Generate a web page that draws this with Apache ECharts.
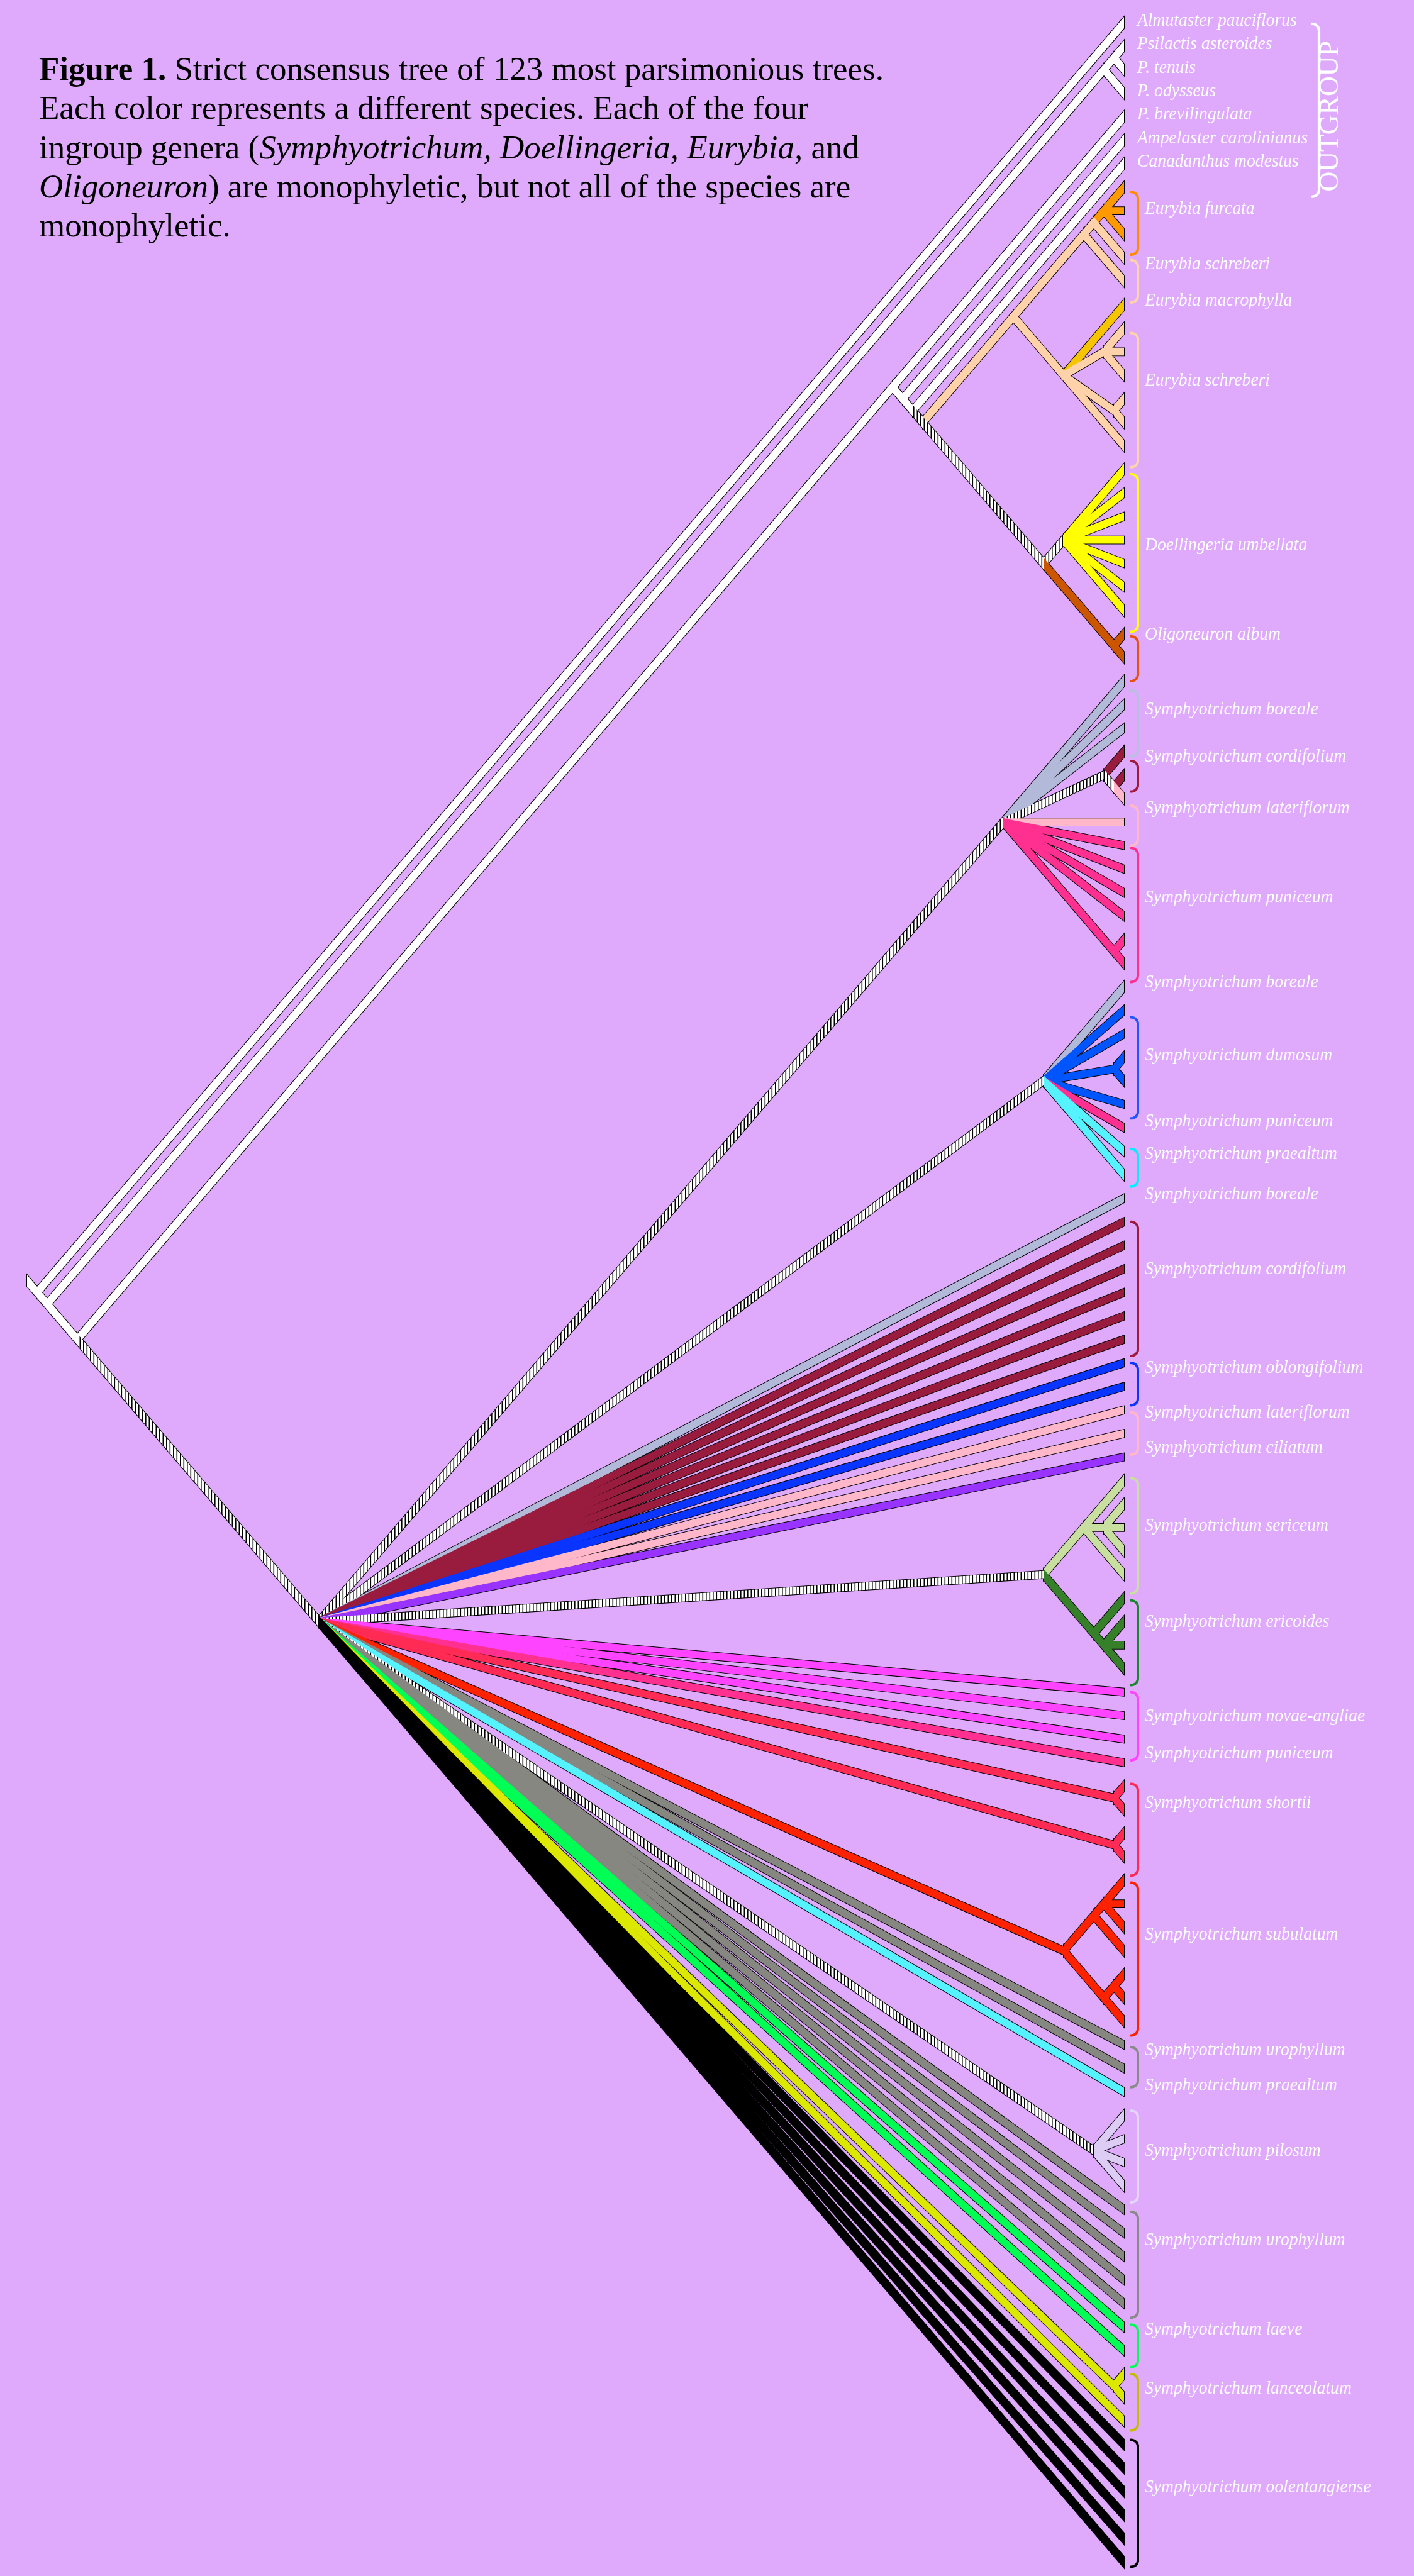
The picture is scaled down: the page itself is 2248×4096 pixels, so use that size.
<!DOCTYPE html>
<html>
<head>
<meta charset="utf-8">
<script src="https://cdn.jsdelivr.net/npm/echarts@6/dist/echarts.min.js"></script>
<style>
html,body{margin:0;padding:0;background:#E0AAFC;}
#chart{width:2248px;height:4096px;}
</style>
</head>
<body>
<div id="chart"></div>
<script>
// ---------------- DATA ----------------
// species of each terminal, top to bottom (leaf index = row)
const leafSpecies = [
  'out','out','out','out','out','out','out',
  'furc','furc','furc','schr','schr','macr','schr','schr','schr','schr','schr','schr',
  'doel','doel','doel','doel','doel','doel','doel',
  'olig','olig',
  'bore','bore','bore','cord','cord','late','late','puni','puni','puni','puni','puni','puni',
  'bore','dumo','dumo','dumo','dumo','dumo','puni','prae','prae',
  'bore','cord','cord','cord','cord','cord','cord','oblo','oblo','late','late','cili',
  'seri','seri','seri','seri','seri','eric','eric','eric','eric',
  'nova','nova','nova','puni','shor','shor','shor','shor',
  'subu','subu','subu','subu','subu','subu','subu','urop','urop','prae',
  'pilo','pilo','pilo','pilo','urop','urop','urop','urop','urop','laev','laev',
  'lanc','lanc','lanc','oole','oole','oole','oole','oole','oole'
];
const speciesColors = {
  out:'#FFFFFF', furc:'#FF9900', schr:'#FFD2AA', macr:'#F7C400', doel:'#FFFF00', olig:'#CC5500',
  bore:'#B3B9D9', cord:'#991C3E', late:'#FFB7C9', puni:'#FF3090', dumo:'#0055FF', prae:'#55F2FF',
  oblo:'#0A34FF', cili:'#9933FF', seri:'#C8DFA0', eric:'#37802A', nova:'#FF44FF', shor:'#FF2B55',
  subu:'#FF2200', urop:'#878782', pilo:'#DDCDF5', laev:'#00FF55', lanc:'#DDE800', oole:'#000000',
  w:'#FFFFFF'
};
const bracketColors = Object.assign({}, speciesColors, {
  out:'#FFFFFF', furc:'#FF8C00', olig:'#E8520F', bore:'#B8C0E0', prae:'#00EEFF', eric:'#148A2A',
  pilo:'#E4D6F8', urop:'#8A8A8A', lanc:'#C4BC00', dumo:'#2255FF', cord:'#A01A3C'
});

// topology (Newick, leaves = row index, label after ")" = colour of the stem leading to that node; h = hatched, w = white)
const cladePsilactis = '((1,2)w,3)w';
const cladeEurybia = '((((7,8,9)furc,10)schr,11)schr,(12,(13,14,15)schr,(16,17)schr,18)schr)schr';
const cladeDoellOlig = '((19,20,21,22,23,24,25)h,(26,27)olig)h';
const cladeBorealeA = '(28,29,30,(31,(32,33)h)h,34,35,36,37,38,(39,40)puni)h';
const cladeDumosum = '(41,42,43,(44,45)dumo,46,47,48,49)h';
const cladeSericeum = '((62,(63,64,65)seri,66)seri,(67,(68,69,70)eric)eric)h';
const cladeSubulatum = '(((79,80,81)subu,82)subu,((83,84)subu,85)subu)subu';
const cladePilosum = '(89,90,91,92)h';
const cladeSymph = '(' + cladeBorealeA + ',' + cladeDumosum + ',50,51,52,53,54,55,56,57,58,59,60,61,' +
  cladeSericeum + ',71,72,73,74,(75,76)shor,(77,78)shor,' + cladeSubulatum + ',86,87,88,' + cladePilosum +
  ',93,94,95,96,97,98,99,(100,101)lanc,102,103,104,105,106,107,108)h';
const cladeIngroupOut = '(4,(5,(6,(' + cladeEurybia + ',' + cladeDoellOlig + ')h)w)w)w';
const treeNewick = '(0,(' + cladePsilactis + ',(' + cladeIngroupOut + ',' + cladeSymph + ')w)w)w';
const rootStub = 0.5;

// taxon labels and the row they sit on
const labelNames = [
  'Almutaster pauciflorus','Psilactis asteroides','P. tenuis','P. odysseus','P. brevilingulata',
  'Ampelaster carolinianus','Canadanthus modestus',
  'Eurybia furcata','Eurybia schreberi','Eurybia macrophylla','Eurybia schreberi',
  'Doellingeria umbellata','Oligoneuron album',
  'Symphyotrichum boreale','Symphyotrichum cordifolium','Symphyotrichum lateriflorum','Symphyotrichum puniceum',
  'Symphyotrichum boreale','Symphyotrichum dumosum','Symphyotrichum puniceum','Symphyotrichum praealtum',
  'Symphyotrichum boreale','Symphyotrichum cordifolium','Symphyotrichum oblongifolium','Symphyotrichum lateriflorum',
  'Symphyotrichum ciliatum','Symphyotrichum sericeum','Symphyotrichum ericoides','Symphyotrichum novae-angliae',
  'Symphyotrichum puniceum','Symphyotrichum shortii','Symphyotrichum subulatum','Symphyotrichum urophyllum',
  'Symphyotrichum praealtum','Symphyotrichum pilosum','Symphyotrichum urophyllum','Symphyotrichum laeve',
  'Symphyotrichum lanceolatum','Symphyotrichum oolentangiense'
];
const labelRows = [0,1,2,3,4,5,6, 8.0,10.35,11.9,15.3,22.3,26.1,
  29.3,31.3,33.5,37.3,40.9,44.0,46.8,48.2,49.9,53.1,57.3,59.2,60.7,64.0,68.1,72.1,
  73.7,75.8,81.4,86.3,87.8,90.6,94.4,98.2,100.7,104.9];

// brackets: species and the rows they span
const bracketKeys = ['out','furc','schr','schr','doel','olig','bore','cord','late','puni','dumo','prae',
  'cord','oblo','late','seri','eric','nova','shor','subu','urop','pilo','urop','laev','lanc','oole'];
const bracketFrom = [0.05,7.2,10.1,13.2,19.2,26.1,28.4,31.4,33.3,35.1,42.3,47.9,
  51.0,57.0,59.1,61.9,67.1,71.0,74.9,79.1,86.1,88.8,93.1,97.9,100.0,102.8];
const bracketTo = [7.4,9.87,11.9,18.9,25.9,28.0,31.2,32.7,35.0,40.8,46.6,49.5,
  56.7,58.8,60.9,66.8,70.7,73.9,78.8,85.6,87.8,92.7,97.6,99.7,102.4,108.2];
const groupTitle = 'OUTGROUP';
const groupTitleRow = 3.98;

const captionLines = [
  '{b|Figure 1.} Strict consensus tree of 123 most parsimonious trees.',
  'Each color represents a different species. Each of the four',
  'ingroup genera ({i|Symphyotrichum, Doellingeria, Eurybia,} and',
  '{i|Oligoneuron}) are monophyletic, but not all of the species are',
  'monophyletic.'
];

// ---------------- TREE LAYOUT (slanted cladogram) ----------------
function parseNewick(str){
  let i = 0;
  function node(){
    if (str[i] === '('){
      i++;
      const kids = [];
      while (true){
        kids.push(node());
        if (str[i] === ','){ i++; continue; }
        if (str[i] === ')'){ i++; break; }
        throw new Error('bad newick at ' + i);
      }
      let lab = '';
      while (i < str.length && /[a-z]/i.test(str[i])) lab += str[i++];
      return {kids: kids, stem: lab};
    }
    let num = '';
    while (i < str.length && /[0-9]/.test(str[i])) num += str[i++];
    return {leaf: +num};
  }
  return node();
}
function layout(n){
  if (n.kids){
    n.kids.forEach(layout);
    n.lo = Math.min.apply(null, n.kids.map(k => k.lo));
    n.hi = Math.max.apply(null, n.kids.map(k => k.hi));
  } else { n.lo = n.hi = n.leaf; }
  n.y = (n.lo + n.hi) / 2;
  n.x = -(n.hi - n.lo) / 2;
}
const root = parseNewick(treeNewick);
layout(root);
const branches = [];
branches.push([root.x - rootStub, root.y - rootStub, root.x, root.y, root.stem]);
(function collect(n){
  if (!n.kids) return;
  n.kids.forEach(k => {
    branches.push([n.x, n.y, k.x, k.y, k.kids ? k.stem : leafSpecies[k.leaf]]);
    collect(k);
  });
})(root);

// hatched fill
const hatchCanvas = document.createElement('canvas');
hatchCanvas.width = 11; hatchCanvas.height = 8;
(function(){
  const g = hatchCanvas.getContext('2d');
  g.fillStyle = '#FFFFFF'; g.fillRect(0, 0, 11, 8);
  g.fillStyle = '#000000'; g.fillRect(0, 0, 1.6, 8); g.fillRect(5.5, 0, 1.6, 8);
})();
const hatchFill = {image: hatchCanvas, repeat: 'repeat'};
function fillFor(key){ return key === 'h' ? hatchFill : (speciesColors[key] || '#FFFFFF'); }

// ---------------- CHART ----------------
const BAR_W = 11.8;
function barPoints(api){
  const p0 = api.coord([api.value(0), api.value(1)]);
  const p1 = api.coord([api.value(2), api.value(3)]);
  const dx = p1[0] - p0[0], dy = p1[1] - p0[1];
  const h = BAR_W / 2 * Math.hypot(dx, dy) / dx;
  return [[p0[0], p0[1] - h], [p1[0], p1[1] - h], [p1[0], p1[1] + h], [p0[0], p0[1] + h]];
}
function bracketPoints(xa, xb, yTop, yBot, r){
  r = Math.min(r, (yBot - yTop) / 2);
  const pts = [], n = 10, rx = xb - xa;
  for (let k = 0; k <= n; k++){ const t = k / n * Math.PI / 2; pts.push([xa + rx * Math.sin(t), yTop + r - r * Math.cos(t)]); }
  for (let k = 0; k <= n; k++){ const t = k / n * Math.PI / 2; pts.push([xa + rx * Math.cos(t), yBot - r + r * Math.sin(t)]); }
  return pts;
}
const branchData = branches.map(b => [b[0], b[1], b[2], b[3]]);
const FONT_FAMILY = '"Liberation Serif", "Times New Roman", serif';

const chart = echarts.init(document.getElementById('chart'), null, {renderer: 'canvas'});
const option = {
  backgroundColor: '#E0AAFC',
  animation: false,
  grid: {left: 11, right: 461, top: 36, bottom: 22},
  xAxis: {type: 'value', min: -55.5, max: 0, show: false},
  yAxis: {type: 'value', min: 0, max: 108, inverse: true, show: false},
  graphic: captionLines.map((t, i) => ({
    type: 'text', x: 62, y: 113 + i * 62.3, silent: true,
    style: {
      text: t, fill: '#000', fontSize: 53, fontFamily: FONT_FAMILY, verticalAlign: 'middle',
      rich: {
        b: {fontWeight: 'bold', fontSize: 53, fontFamily: FONT_FAMILY, fill: '#000'},
        i: {fontStyle: 'italic', fontSize: 53, fontFamily: FONT_FAMILY, fill: '#000'}
      }
    }
  })),
  series: [
    { // outline pass
      type: 'custom', z: 1, silent: true, data: branchData, clip: false,
      renderItem: (params, api) => ({
        type: 'polygon', shape: {points: barPoints(api)},
        style: {fill: '#000', stroke: '#000', lineWidth: 2}
      })
    },
    { // fill pass
      type: 'custom', z: 2, silent: true, data: branchData, clip: false,
      renderItem: (params, api) => ({
        type: 'polygon', shape: {points: barPoints(api)},
        style: {fill: fillFor(branches[params.dataIndex][4]), stroke: null}
      })
    },
    { // brackets
      type: 'custom', z: 3, silent: true, clip: false,
      data: bracketFrom.map((f, i) => [0, f, bracketTo[i]]),
      renderItem: (params, api) => {
        const i = params.dataIndex;
        const top = api.coord([0, api.value(1)]);
        const bot = api.coord([0, api.value(2)]);
        const isOut = bracketKeys[i] === 'out';
        const xa = top[0] + (isOut ? 299 : 11);
        const xb = top[0] + (isOut ? 310 : 22);
        return {
          type: 'polyline',
          shape: {points: bracketPoints(xa, xb, top[1], bot[1], isOut ? 11 : 10)},
          style: {fill: null, stroke: bracketColors[bracketKeys[i]], lineWidth: isOut ? 4.2 : 4, lineCap: 'round', lineJoin: 'round'}
        };
      }
    },
    { // taxon labels
      type: 'custom', z: 4, silent: true, clip: false,
      data: labelRows.map(r => [0, r]),
      renderItem: (params, api) => {
        const p = api.coord([0, api.value(1)]);
        const isOut = api.value(1) < 7;
        return {
          type: 'text', x: p[0] + (isOut ? 21 : 33), y: p[1] - 3, scaleX: 0.92,
          style: {
            text: labelNames[params.dataIndex], x: 0, y: 0,
            fill: '#FFFFFF', font: 'italic 30px ' + FONT_FAMILY,
            align: 'left', verticalAlign: 'middle'
          }
        };
      }
    },
    { // OUTGROUP title
      type: 'custom', z: 4, silent: true, clip: false,
      data: [[0, groupTitleRow]],
      renderItem: (params, api) => {
        const p = api.coord([0, api.value(1)]);
        return {
          type: 'text', x: p[0] + 328, y: p[1], rotation: Math.PI / 2,
          style: {
            text: groupTitle, x: 0, y: 0, fill: '#FFFFFF', font: '44px ' + FONT_FAMILY,
            align: 'center', verticalAlign: 'middle'
          }
        };
      }
    }
  ]
};
chart.setOption(option);
</script>
</body>
</html>
